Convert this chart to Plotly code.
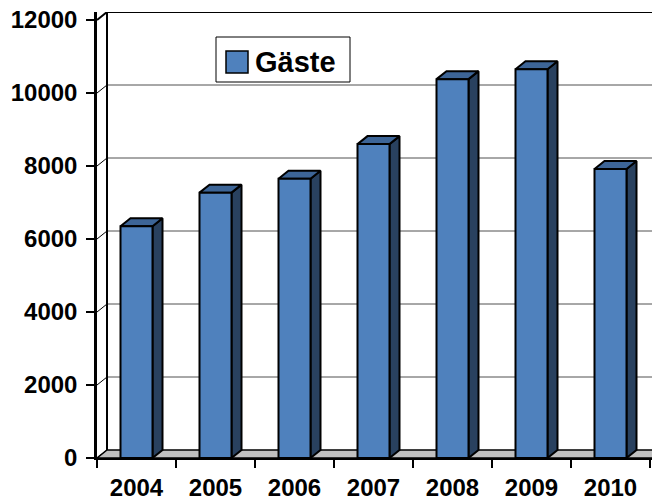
import plotly.graph_objects as go

# ---- data ----
years = ["2004", "2005", "2006", "2007", "2008", "2009", "2010"]
gaeste = [6350, 7270, 7650, 8600, 10380, 10650, 7920]
y_ticks = [0, 2000, 4000, 6000, 8000, 10000, 12000]
series_name = "Gäste"

# ---- geometry (pixels of the 652x499 canvas) ----
W, H = 652, 499
PLOT_L, PLOT_T, PLOT_B = 97, 12, 458
CAT_PX = 79.0          # width of one category
UNIT_PX = 0.0365       # pixels per value unit
DEPTH_PX_X, DEPTH_PX_Y = 10, 8
BAR_HALF = 16 / CAT_PX

X0 = -0.5
X_MAX = X0 + (W - PLOT_L) / CAT_PX
Y_MAX = (PLOT_B - PLOT_T) / UNIT_PX
DX = DEPTH_PX_X / CAT_PX
DY = DEPTH_PX_Y / UNIT_PX
Y_TOP = y_ticks[-1]
X_FAR = X_MAX + 1.0

FRONT = "#4F81BD"
SIDE = "#29415F"
TOP = "#3D6597"
FLOOR = "#C0C0C0"
GRID = "#505050"
FONT = "Liberation Sans, Arial, sans-serif"

fig = go.Figure()


def poly(xs, ys, fill, lw=0, lc="black"):
    fig.add_trace(go.Scatter(
        x=xs + [xs[0]], y=ys + [ys[0]], mode="lines", fill="toself",
        fillcolor=fill, line=dict(color=lc, width=lw),
        hoverinfo="skip", showlegend=False))


def lines(xs, ys, color, width):
    fig.add_trace(go.Scatter(
        x=xs, y=ys, mode="lines", line=dict(color=color, width=width),
        hoverinfo="skip", showlegend=False))


# back wall
poly([X0 + DX, X_FAR, X_FAR, X0 + DX], [DY, DY, Y_TOP + DY, Y_TOP + DY], "white")

# back wall gridlines
gx, gy = [], []
for v in y_ticks[1:-1]:
    gx += [X0 + DX, X_FAR, None]
    gy += [v + DY, v + DY, None]
lines(gx, gy, GRID, 1)

# left wall diagonals
dx_, dy_ = [], []
for v in y_ticks[:-1]:
    dx_ += [X0, X0 + DX, None]
    dy_ += [v, v + DY, None]
lines(dx_, dy_, "black", 1)

# back wall left + top border and top diagonal
lines([X0 + DX, X0 + DX, X_FAR], [DY, Y_TOP + DY, Y_TOP + DY], "black", 2)
lines([X0, X0 + DX], [Y_TOP, Y_TOP + DY], "black", 2)

# floor
poly([X0, X_FAR, X_FAR, X0 + DX], [0, 0, DY, DY], FLOOR, 1.5)

# 3D bars
for i, v in enumerate(gaeste):
    xl, xr = i - BAR_HALF, i + BAR_HALF
    poly([xr, xr + DX, xr + DX, xr], [0, DY, v + DY, v], SIDE, 2)
    poly([xl, xr, xr + DX, xl + DX], [v, v, v + DY, v + DY], TOP, 2)
    poly([xl, xr, xr, xl], [0, 0, v, v], FRONT, 2)


def px_x(p):
    return (p - PLOT_L) / (W - PLOT_L)


def px_y(p):
    return (PLOT_B - p) / (PLOT_B - PLOT_T)


# legend (custom, to match the big symbol)
fig.add_shape(type="rect", xref="paper", yref="paper",
              x0=px_x(216), x1=px_x(350), y0=px_y(82), y1=px_y(37),
              fillcolor="white", line=dict(color="black", width=1))
fig.add_shape(type="rect", xref="paper", yref="paper",
              x0=px_x(226), x1=px_x(248), y0=px_y(73), y1=px_y(51),
              fillcolor=FRONT, line=dict(color="black", width=1.5))
fig.add_annotation(text=series_name, xref="paper", yref="paper",
                   x=px_x(253), y=px_y(62), xanchor="left", yanchor="middle",
                   showarrow=False,
                   font=dict(family=FONT, size=29, color="black", weight="bold"))

fig.update_layout(
    width=W, height=H,
    margin=dict(l=PLOT_L, r=0, t=PLOT_T, b=H - PLOT_B, pad=0, autoexpand=False),
    paper_bgcolor="white", plot_bgcolor="white",
    showlegend=False,
    xaxis=dict(range=[X0, X_MAX], tickvals=list(range(len(years))), ticktext=years,
               ticks="", showgrid=False, zeroline=False, showline=True,
               linecolor="black", linewidth=2, automargin=False,
               tickfont=dict(family=FONT, size=24, color="black", weight="bold"),
               ticklabelstandoff=7,
               minor=dict(tickvals=[X0 + k for k in range(len(years) + 1)],
                          ticks="outside", ticklen=8, tickwidth=1.5,
                          tickcolor="black", showgrid=False),
               fixedrange=True),
    yaxis=dict(range=[0, Y_MAX], tickvals=y_ticks, ticktext=[str(t) for t in y_ticks],
               ticks="outside", ticklen=8, tickwidth=1.5, tickcolor="black",
               showgrid=False, zeroline=False, showline=True,
               linecolor="black", linewidth=2.5, automargin=False,
               tickfont=dict(family=FONT, size=24, color="black", weight="bold"),
               ticklabelstandoff=4,
               fixedrange=True),
)

fig.write_html("out.html", config={"displayModeBar": False},
               post_script="document.body.style.margin='0';"
                           "document.body.style.overflow='hidden';")
